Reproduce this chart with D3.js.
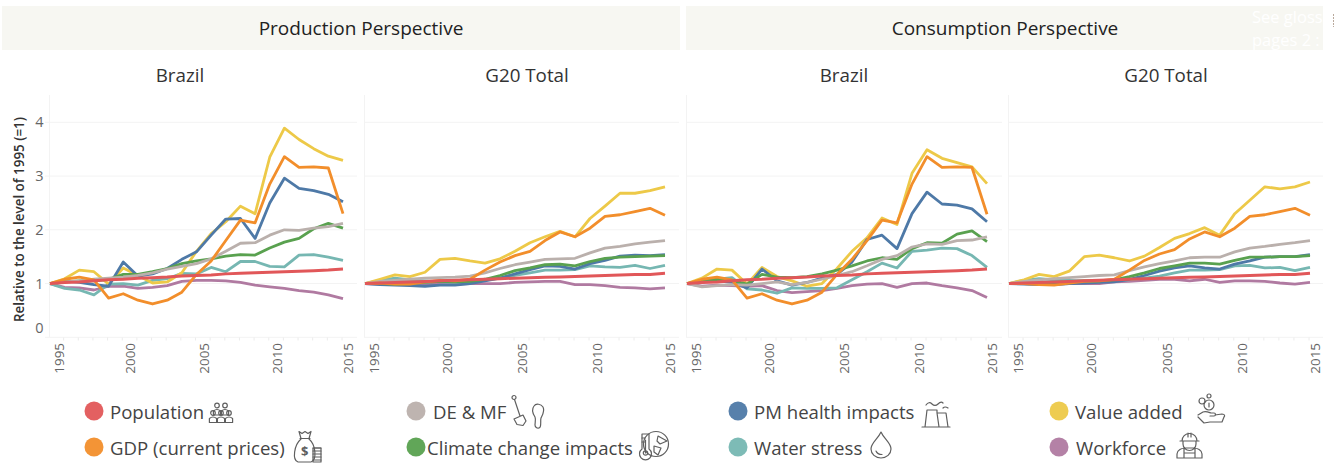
<!DOCTYPE html>
<html><head><meta charset="utf-8">
<script src="https://cdn.jsdelivr.net/npm/d3@7"></script>
<style>
html,body{margin:0;padding:0;background:#fff;overflow:hidden}
svg{display:block}
text{font-family:"Open Sans",sans-serif}
</style></head><body>
<svg id="c" width="1344" height="464"></svg>
<script>
const years = d3.range(1995, 2016);
const xTickYears = [1995, 2000, 2005, 2010, 2015];
const yTicks = [0, 1, 2, 3, 4];
const seriesNames = ["Workforce","Water stress","Value added","PM health impacts","Climate change impacts","DE & MF","GDP (current prices)","Population"];
const seriesColors = ["#B07AA1","#76B7B2","#EDC948","#4E79A7","#59A14F","#BAB0AC","#F28E2B","#E15759"];

const popBrazil = [1,1.02,1.03,1.05,1.07,1.08,1.1,1.11,1.12,1.14,1.15,1.16,1.18,1.19,1.2,1.21,1.22,1.23,1.24,1.25,1.27];
const popG20 = [1,1.01,1.02,1.03,1.04,1.05,1.06,1.07,1.08,1.09,1.1,1.11,1.115,1.12,1.13,1.14,1.15,1.16,1.17,1.17,1.19];

const pbWorkforce = [1,.93,.92,.88,.95,.95,.91,.93,.96,1.04,1.06,1.06,1.05,1.02,.97,.94,.91,.87,.84,.79,.72];
const pbWater = [1,.91,.88,.79,.99,1.0,.97,1.06,1.09,1.19,1.18,1.3,1.22,1.41,1.41,1.32,1.31,1.53,1.54,1.49,1.43];
const pbValue = [1,1.09,1.25,1.22,.99,1.29,1.15,1.01,1.03,1.2,1.6,1.93,2.15,2.44,2.3,3.35,3.89,3.68,3.51,3.37,3.29];
const pbPM = [1,1.05,1.02,.98,.95,1.4,1.14,1.18,1.28,1.45,1.59,1.9,2.2,2.21,1.84,2.5,2.96,2.77,2.73,2.66,2.52];
const pbClimate = [1,1.03,1.05,1.05,1.08,1.17,1.17,1.22,1.28,1.37,1.42,1.46,1.51,1.54,1.53,1.66,1.77,1.84,2.02,2.12,2.03];
const pbDE = [1,1.03,1.05,1.08,1.1,1.12,1.15,1.2,1.27,1.32,1.37,1.46,1.6,1.75,1.76,1.9,2.0,1.99,2.03,2.06,2.12];
const pbGDP = [1,1.08,1.12,1.07,.73,.81,.69,.62,.69,.84,1.17,1.42,1.8,2.18,2.13,2.85,3.36,3.16,3.17,3.15,2.3];

const pgWorkforce = [1,.99,.99,.99,.98,.99,.99,1,1,1,1.02,1.03,1.04,1.04,.98,.98,.96,.93,.92,.9,.92];
const pgWater = [1,1.06,1.1,1.07,1.05,1.03,1.02,1.03,1.07,1.1,1.15,1.2,1.25,1.25,1.26,1.33,1.31,1.3,1.34,1.28,1.34];
const pgValue = [1,1.08,1.16,1.13,1.21,1.45,1.47,1.42,1.38,1.46,1.6,1.76,1.87,1.97,1.87,2.21,2.44,2.68,2.68,2.73,2.8];
const pgPM = [1,.98,.97,.96,.95,.97,.97,1.0,1.05,1.1,1.18,1.26,1.33,1.32,1.27,1.37,1.43,1.51,1.53,1.52,1.54];
const pgClimate = [1,1.0,.99,1.0,1.02,1.04,1.03,1.04,1.08,1.15,1.24,1.29,1.35,1.36,1.33,1.41,1.47,1.49,1.5,1.51,1.52];
const pgDE = [1,1.04,1.06,1.08,1.1,1.11,1.12,1.14,1.2,1.28,1.35,1.4,1.45,1.46,1.47,1.57,1.66,1.69,1.74,1.77,1.8];
const pgGDP = [1,1.01,.99,.99,1.03,1.06,1.05,1.08,1.25,1.4,1.52,1.6,1.8,1.96,1.87,2.03,2.25,2.28,2.34,2.4,2.27];

const cbWorkforce = [1,.95,.97,.96,.95,.96,.87,.83,.85,.87,.91,.96,.99,1.0,.93,1.0,1.01,.96,.92,.87,.74];
const cbWater = [1,1.02,1.08,1.11,.9,.88,.82,.92,.91,.91,.92,1.07,1.22,1.38,1.29,1.6,1.62,1.66,1.65,1.52,1.3];
const cbValue = [1,1.1,1.27,1.25,.99,1.3,1.13,1.05,.95,1.0,1.28,1.6,1.85,2.22,2.1,3.05,3.49,3.33,3.25,3.17,2.86];
const cbPM = [1,1.03,1.05,1.02,.92,1.27,1.05,.97,1.02,1.1,1.17,1.4,1.82,1.9,1.65,2.3,2.7,2.48,2.46,2.39,2.15];
const cbClimate = [1,1.05,1.08,1.06,.99,1.17,1.12,1.11,1.13,1.18,1.25,1.33,1.42,1.48,1.45,1.65,1.76,1.75,1.92,1.98,1.78];
const cbDE = [1,.94,.96,.98,.97,1.0,1.03,.98,1.02,1.08,1.15,1.22,1.33,1.45,1.52,1.68,1.74,1.73,1.8,1.81,1.87];
const cbGDP = [1,1.08,1.12,1.07,.73,.81,.69,.62,.69,.84,1.17,1.45,1.8,2.18,2.13,2.85,3.36,3.16,3.17,3.16,2.29];

const cgWorkforce = [1,1,.99,.99,1,1,1.0,1.03,1.04,1.06,1.08,1.08,1.05,1.08,1.02,1.05,1.05,1.04,1.01,.99,1.02];
const cgWater = [1,1.06,1.09,1.07,1.06,1.05,1.04,1.05,1.07,1.1,1.14,1.2,1.25,1.25,1.26,1.33,1.34,1.29,1.3,1.24,1.3];
const cgValue = [1,1.07,1.17,1.13,1.23,1.5,1.53,1.48,1.42,1.51,1.67,1.84,1.93,2.04,1.9,2.3,2.55,2.8,2.76,2.8,2.89];
const cgPM = [1,.99,.98,.98,1,1.01,1.02,1.03,1.08,1.15,1.23,1.29,1.33,1.29,1.27,1.36,1.42,1.49,1.5,1.5,1.54];
const cgClimate = [1,1.0,1.01,1.02,1.03,1.05,1.05,1.07,1.13,1.2,1.28,1.33,1.38,1.38,1.36,1.43,1.49,1.49,1.5,1.5,1.52];
const cgDE = [1,1.04,1.07,1.09,1.11,1.13,1.15,1.16,1.24,1.31,1.37,1.42,1.48,1.49,1.49,1.59,1.66,1.69,1.73,1.76,1.8];
const cgGDP = [1,1,.98,.97,1.01,1.04,1.05,1.08,1.25,1.43,1.55,1.63,1.83,1.96,1.87,2.03,2.25,2.28,2.34,2.4,2.27];

const panelTitles = ["Brazil","G20 Total","Brazil","G20 Total"];
const bannerTitles = ["Production Perspective","Consumption Perspective"];

const panelSeries = [
  [pbWorkforce,pbWater,pbValue,pbPM,pbClimate,pbDE,pbGDP,popBrazil],
  [pgWorkforce,pgWater,pgValue,pgPM,pgClimate,pgDE,pgGDP,popG20],
  [cbWorkforce,cbWater,cbValue,cbPM,cbClimate,cbDE,cbGDP,popBrazil],
  [cgWorkforce,cgWater,cgValue,cgPM,cgClimate,cgDE,cgGDP,popG20]
];

const svg = d3.select("#c");
const layout = [
  {l:49, r:357, x0:50, x1:343, cx:180},
  {l:364, r:679, x0:365, x1:665, cx:527},
  {l:686, r:1002, x0:687, x1:987, cx:844},
  {l:1008, r:1323, x0:1009, x1:1310, cx:1166}
];
const y = d3.scaleLinear().domain([0,4]).range([337.3,122.3]);

// banners
[[2,678],[686,637]].forEach(b=>{
  svg.append("rect").attr("x",b[0]).attr("y",6).attr("width",b[1]).attr("height",44).attr("fill","#f7f7f2");
});
svg.append("text").attr("x",361).attr("y",35).attr("text-anchor","middle").attr("font-size",19).attr("font-weight",500).attr("fill","#222").text(bannerTitles[0]);
svg.append("text").attr("x",1005).attr("y",35).attr("text-anchor","middle").attr("font-size",19).attr("font-weight",500).attr("fill","#222").text(bannerTitles[1]);
const note = svg.append("g").attr("fill","#ffffff").attr("font-size",16.5);
note.append("text").attr("x",1252).attr("y",23).text("See gloss");
note.append("text").attr("x",1252).attr("y",46).text("pages 2 :");
svg.append("line").attr("x1",1333.5).attr("x2",1333.5).attr("y1",14).attr("y2",27).attr("stroke","#b9a99c").attr("stroke-dasharray","2 1");

const line = (x)=>d3.line().x((d,i)=>x(years[i])).y(d=>y(d));

layout.forEach((p,pi)=>{
  const g = svg.append("g");
  const x = d3.scaleLinear().domain([1995,2015]).range([p.x0,p.x1]);
  g.append("text").attr("x",p.cx).attr("y",82).attr("text-anchor","middle").attr("font-size",18.8).attr("fill","#333").text(panelTitles[pi]);
  // grid
  g.selectAll(".gl").data(yTicks).join("line").attr("x1",pi===0?45:p.l).attr("x2",p.r).attr("y1",d=>y(d)).attr("y2",d=>y(d)).attr("stroke","#f3f3f3");
  g.append("line").attr("x1",p.l+.5).attr("x2",p.l+.5).attr("y1",95).attr("y2",337.3).attr("stroke","#f3f3f3");
  // minor year ticks
  const minor = g.append("g").attr("transform","translate(-1.5,337.5)").call(d3.axisBottom(x).tickValues(years.slice(1)).tickSize(3).tickFormat(""));
  minor.select(".domain").remove();
  minor.selectAll("line").attr("stroke","#ececec");
  // labelled years
  const ax = g.append("g").attr("transform","translate(0,337.5)").call(d3.axisBottom(x).tickValues(xTickYears).tickSize(0).tickFormat(d3.format("d")));
  ax.select(".domain").remove();
  ax.selectAll("text").attr("font-family",'"Open Sans",sans-serif').attr("font-size",13.4).attr("fill","#666")
    .attr("text-anchor","end").attr("y",0).attr("dy",0)
    .attr("transform",d=>{
      const off = d===1995?9:d===2015?5:7;
      return `translate(${off},5.5) rotate(-90) translate(0,4.7)`;
    });
  if(pi===0){
    const ay = g.append("g").attr("transform","translate(43.5,0)").call(d3.axisLeft(y).tickValues(yTicks).tickSize(0).tickFormat(d3.format("d")));
    ay.select(".domain").remove();
    ay.selectAll("text").attr("font-family",'"Open Sans",sans-serif').attr("font-size",14.5).attr("fill","#666").attr("x",0)
      .attr("dy",d=>d===0?"-0.34em":"0.32em");
    g.append("text").attr("transform","translate(24,219.5) rotate(-90)").attr("text-anchor","middle").attr("font-size",13.4).attr("font-weight",600).attr("fill","#333").text("Relative to the level of 1995 (=1)");
  }
  g.selectAll(".s").data(panelSeries[pi]).join("path").attr("fill","none")
    .attr("stroke",(d,i)=>seriesColors[i]).attr("stroke-width",(d,i)=>i===7?3:2.8).attr("stroke-linejoin","round")
    .attr("d",d=>line(x)(d));
});

// legend
const colorOf = n=>seriesColors[seriesNames.indexOf(n)];
const legendRows = [
  {n:"Population",cx:94,cy:411,tx:110,ty:419},
  {n:"GDP (current prices)",cx:94,cy:447,tx:110,ty:455},
  {n:"DE & MF",cx:416,cy:411,tx:433,ty:419},
  {n:"Climate change impacts",cx:416,cy:447,tx:427,ty:455},
  {n:"PM health impacts",cx:738,cy:411,tx:754,ty:419},
  {n:"Water stress",cx:738,cy:447,tx:754,ty:455},
  {n:"Value added",cx:1059,cy:411,tx:1075,ty:419},
  {n:"Workforce",cx:1059,cy:447,tx:1076,ty:455}
];
const lg = svg.append("g");
lg.selectAll("circle").data(legendRows).join("circle").attr("cx",d=>d.cx).attr("cy",d=>d.cy).attr("r",9.5).attr("fill",d=>colorOf(d.n)).attr("opacity",.95);
lg.selectAll("text").data(legendRows).join("text").attr("x",d=>d.tx).attr("y",d=>d.ty).attr("font-size",18.6).attr("fill","#444").text(d=>d.n);

// icons (decorative line glyphs)
const ic = svg.append("g").attr("fill","none").attr("stroke","#5f5f5f").attr("stroke-width",1.2).attr("stroke-linejoin","round").attr("stroke-linecap","round");
function icon(x,y,draw){ const g=ic.append("g").attr("transform",`translate(${x},${y})`); draw(g); }
const P=(g,d)=>g.append("path").attr("d",d);
const C=(g,x,y,r)=>g.append("circle").attr("cx",x).attr("cy",y).attr("r",r);
// people
icon(209,403,g=>{[[8,2.5],[16,2.5],[4,10],[12,10],[20,10]].forEach(a=>{C(g,a[0],a[1],2.3);P(g,`M${a[0]-3.6} ${a[1]+9.5}v-4q3.6-3 7.2 0v4z`);});});
// money bag and coins
icon(293,430,g=>{P(g,"M6 1.5l3 2 3-2 3 2 3-2-2 7h-8z M7 8.5h10 M8 9C1 15 -1 30 5 32h13C24 30 23 15 16 9");
  g.append("text").attr("x",8).attr("y",26).attr("font-size",13).attr("fill","#5f5f5f").attr("stroke","none").attr("font-weight",700).text("$");
  [18,21,24,27,30].forEach(v=>P(g,`M20 ${v}h8`));P(g,"M20 18v14h8v-14z");});
// shovel
icon(511,395,g=>{C(g,3,2.5,2);P(g,"M3.5 4.5L9 21 M3 24l9-4 3 6-3 4.5-6-1z");});
// foot
icon(532,403,g=>{P(g,"M2 3C-1 7 1 11 3 14c1 2 0 6 0 8 0 2 2 3.5 4 3 3-1 1-7 2-10 2-4 4-7 2-11C9 1 4 0 2 3z");});
// thermometer and globe
icon(640,433,g=>{C(g,16,11,12.5);P(g,"M2 1h7v15a6 6 0 1 1-7 0z M5.5 7v13");P(g,"M2 5h3 M2 9h3 M18 3l9 5-7 3-3-3z M14 13l7 2-3 7-4-3z");C(g,5.5,20,2.2);});
// factory
icon(922,401,g=>{P(g,"M5 9h10v3l2 14H3z M15 12h9l2 14H17 M0 26h28 M4 4q3-4 6-1t6 0 5-1 M21 7q2-2 5 0");});
// coins & hand
icon(1197,394,g=>{C(g,12,11,5);C(g,5,7,3);C(g,12,2,2);P(g,"M12 9v4 M1 21l5-3c3-1 5 0 8 1h3c2 0 2 3 0 3h-4 M18 21l7-1c3 0 3 2 2 3l-2 5H13l-6 1-6-6");});
// drop
icon(871,432,g=>{P(g,"M10 0C7 7 0 11 0 17a10 9 0 0 0 20 0C20 11 13 7 10 0z M5 19c1 2.5 3 3.5 6 3.5");});
// worker
icon(1176,430,g=>{P(g,"M6 11a7.5 7.5 0 0 1 15 0z M4 11h19 M7 11v3a6.5 6.5 0 0 0 13 0v-3 M12 3v4 M15 3v4 M1 28v-4c0-4 5-6 8-6h9c3 0 8 2 8 6v4z M8 18v10 M19 18v10 M8 23h11");});
</script>
</body></html>
